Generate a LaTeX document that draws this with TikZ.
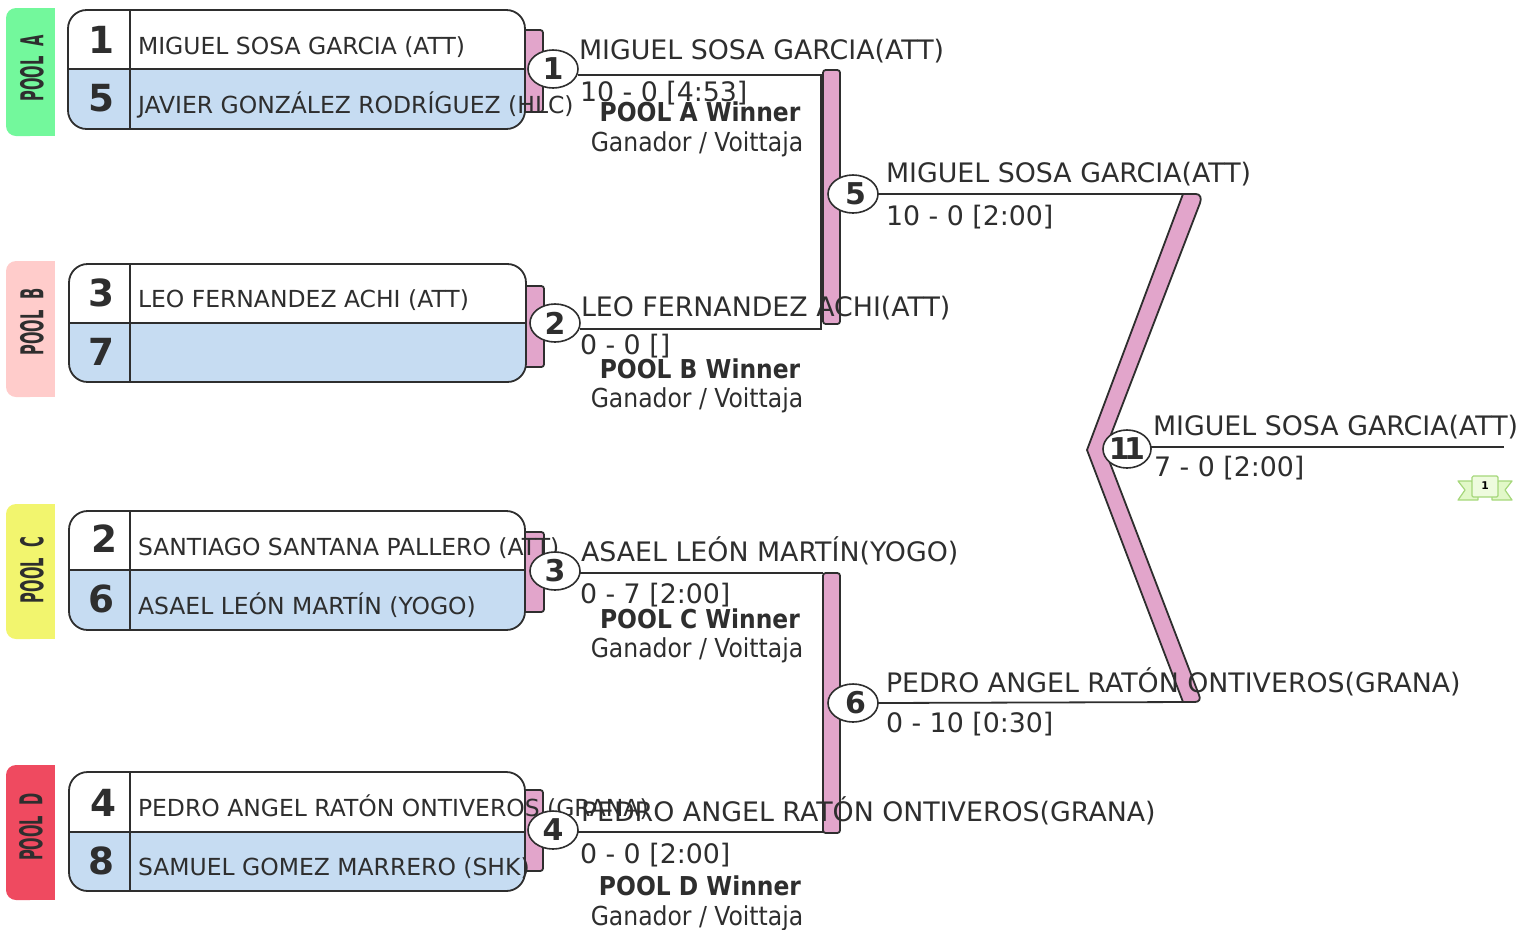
\documentclass[tikz,border=0pt]{standalone}
\usepackage{fontspec}
\setmainfont{DejaVu Sans}
\newfontfamily\condfont{DejaVu Sans Condensed}
\usetikzlibrary{shapes.geometric}
\definecolor{ink}{HTML}{2E2E2E}
\definecolor{barpink}{HTML}{E2A5CB}
\definecolor{seedblue}{HTML}{C6DCF2}
\definecolor{poola}{HTML}{73F89C}
\definecolor{poolb}{HTML}{FFCCCB}
\definecolor{poolc}{HTML}{F2F56E}
\definecolor{poold}{HTML}{EF4A60}
\definecolor{ribbon}{HTML}{E2F8C8}
\definecolor{ribbonline}{HTML}{A5D77A}
\tikzset{
  x=0.75pt,y=-0.75pt,
  every node/.style={text=ink,inner sep=0pt,outer sep=0pt},
  linew/.style={draw=ink,line width=1.8pt*0.75},
  barshape/.style={draw=ink,fill=barpink,line width=1.8pt*0.75,rounded corners=2pt},
  match/.style={ellipse,draw=ink,fill=white,line width=1.6pt*0.75,inner sep=-10pt,minimum width=50*0.75pt,minimum height=38*0.75pt,font=\bfseries\fontsize{22.5}{24}\selectfont},
  seedtxt/.style={anchor=base,font=\bfseries\fontsize{28}{28}\selectfont},
  nametxt/.style={anchor=base west,font=\fontsize{17.6}{20}\selectfont},
  wintxt/.style={anchor=base west,font=\fontsize{20.1}{24}\selectfont},
  scoretxt/.style={anchor=base west,font=\fontsize{20.1}{24}\selectfont},
  pooltitle/.style={anchor=base,font=\condfont\bfseries\fontsize{19.5}{24}\selectfont},
  poolsub/.style={anchor=base,font=\condfont\fontsize{19.6}{24}\selectfont},
  pooltab/.style={rotate=90,font=\condfont\bfseries\fontsize{18}{20}\selectfont},
}
\newcommand{\seedbox}[5]{% x1, x2, y1, ymid, y2
  \begin{scope}
    \clip[rounded corners=14pt] (#1,#3) rectangle (#2,#5);
    \fill[white] (#1,#3) rectangle (#2,#4);
    \fill[seedblue] (#1,#4) rectangle (#2,#5);
  \end{scope}
  \draw[ink,line width=1.8pt*0.75,rounded corners=14pt] (#1,#3) rectangle (#2,#5);
  \draw[ink,line width=2.2pt*0.75] (#1,#4) -- (#2,#4);
  \draw[ink,line width=1.6pt*0.75] (130,#3) -- (130,#5);
}
\newcommand{\tabtxt}[1]{\scalebox{0.68}[1.31]{#1}}
\begin{document}
\begin{tikzpicture}
\useasboundingbox (0,0) rectangle (1520,929);
% pool tabs
\fill[poola,rounded corners=7.5pt] (6,8) rectangle (40,136);
\fill[poola] (25,8) rectangle (55,136);
\fill[poolb,rounded corners=7.5pt] (6,261) rectangle (40,397);
\fill[poolb] (25,261) rectangle (55,397);
\fill[poolc,rounded corners=7.5pt] (6,504) rectangle (40,639);
\fill[poolc] (25,504) rectangle (55,639);
\fill[poold,rounded corners=7.5pt] (6,765) rectangle (40,900);
\fill[poold] (25,765) rectangle (55,900);
\node[pooltab] (pa) at (32,68) {\tabtxt{POOL\ \ A}};
\node[pooltab] (pb) at (32,322) {\tabtxt{POOL\ \ B}};
\node[pooltab] (pc) at (32,570) {\tabtxt{POOL\ \ C}};
\node[pooltab] (pd) at (31,827) {\tabtxt{POOL\ \ D}};
% bars
\draw[barshape] (522,30) rectangle (543,112);
\draw[barshape] (522,286) rectangle (544,367);
\draw[barshape] (522,532) rectangle (544,612);
\draw[barshape] (522,790) rectangle (543,871);
\draw[barshape] (823,70) rectangle (840,324);
\draw[barshape] (823,573) rectangle (840,833);
\draw[draw=ink,fill=barpink,line width=1.8pt*0.75,line join=miter] (1183,194) -- (1196,194) .. controls (1200,194) and (1202,198) .. (1200,203) -- (1105,450) -- (1199,695) .. controls (1201,699) and (1199,702) .. (1195,702) -- (1183,702) -- (1087,450) -- cycle;
% seed boxes
\seedbox{68}{525}{10}{69}{129}
\seedbox{69}{526}{264}{323}{382}
\seedbox{69}{525}{511}{570}{630}
\seedbox{69}{525}{772}{832}{891}
% seeds
\node[seedtxt] (s1) at (101,53) {1};
\node[seedtxt] (s5) at (101,111) {5};
\node[seedtxt] (s3) at (101,306) {3};
\node[seedtxt] (s7) at (101,365) {7};
\node[seedtxt] (s2) at (104,552) {2};
\node[seedtxt] (s6) at (101,612) {6};
\node[seedtxt] (s4) at (103,816) {4};
\node[seedtxt] (s8) at (101,874) {8};
% names in boxes
\node[nametxt] (n1) at (138,54) {MIGUEL SOSA GARCIA (ATT)};
\node[nametxt] (n5) at (138,113) {JAVIER GONZÁLEZ RODRÍGUEZ (HLC)};
\node[nametxt] (n3) at (138,307) {LEO FERNANDEZ ACHI (ATT)};
\node[nametxt] (n2) at (138,555) {SANTIAGO SANTANA PALLERO (ATT)};
\node[nametxt] (n6) at (138,614) {ASAEL LEÓN MARTÍN (YOGO)};
\node[nametxt] (n4) at (138,816) {PEDRO ANGEL RATÓN ONTIVEROS (GRANA)};
\node[nametxt] (n8) at (138,875) {SAMUEL GOMEZ MARRERO (SHK)};
% match nodes
\node[match] (m1) at (553,69) {1};
\node[match] (m2) at (555,323) {2};
\node[match] (m3) at (555,571) {3};
\node[match] (m4) at (553,830) {4};
\node[match] (m5) at (853,194) {\hspace{4pt}5};
\node[match] (m6) at (853,703) {\hspace{4pt}6};
\node[match,minimum width=48*0.75pt] (m11) at (1127,449) {1\kern-4.2pt 1};
% junction points
\coordinate (j1) at (821,75);
\coordinate (j2) at (821,329);
\coordinate (j3) at (823,573);
\coordinate (j4) at (823,832);
\coordinate (j5) at (1190,194);
\coordinate (j6) at (1190,702);
\coordinate (j11) at (1504,447);
% connectors
\draw[linew] (m1.east |- j1) -- (j1) -- (j2) -- (m2.east |- j2);
\draw[linew] (m3.east |- j3) -- (j3);
\draw[linew] (m4.east |- j4) -- (j4);
\draw[linew] (m5.east) -- (j5);
\draw[linew] (m6.east) -- (j6);
\draw[linew] (m11.east |- j11) -- (j11);
% winner labels
\node[wintxt] (w1) at (579,59) {MIGUEL SOSA GARCIA(ATT)};
\node[scoretxt] (r1) at (580,101) {10 - 0 [4:53]};
\node[poolsub] (g1) at (697,151) {Ganador / Voittaja};
\node[pooltitle] (t1) at (700,121) {POOL A Winner};
\node[wintxt] (w2) at (581,316) {LEO FERNANDEZ ACHI(ATT)};
\node[scoretxt] (r2) at (580,354) {0 - 0 []};
\node[pooltitle] (t2) at (700,378) {POOL B Winner};
\node[poolsub] (g2) at (697,407) {Ganador / Voittaja};
\node[wintxt] (w3) at (581,561) {ASAEL LEÓN MARTÍN(YOGO)};
\node[scoretxt] (r3) at (580,603) {0 - 7 [2:00]};
\node[pooltitle] (t3) at (700,628) {POOL C Winner};
\node[poolsub] (g3) at (697,657) {Ganador / Voittaja};
\node[wintxt] (w4) at (581,821) {PEDRO ANGEL RATÓN ONTIVEROS(GRANA)};
\node[scoretxt] (r4) at (580,863) {0 - 0 [2:00]};
\node[pooltitle] (t4) at (700,895) {POOL D Winner};
\node[poolsub] (g4) at (697,925) {Ganador / Voittaja};
\node[wintxt] (w5) at (886,182) {MIGUEL SOSA GARCIA(ATT)};
\node[scoretxt] (r5) at (886,225) {10 - 0 [2:00]};
\node[wintxt] (w6) at (886,692) {PEDRO ANGEL RATÓN ONTIVEROS(GRANA)};
\node[scoretxt] (r6) at (886,732) {0 - 10 [0:30]};
\node[wintxt] (w11) at (1153,435) {MIGUEL SOSA GARCIA(ATT)};
\node[scoretxt] (r11) at (1154,476) {7 - 0 [2:00]};
% ribbon
\draw[ribbonline,fill=ribbon,line width=0.9pt,line join=round] (1472,481) -- (1458,481) -- (1465,490) -- (1458,500) -- (1478,500) -- (1478,497) -- cycle;
\draw[ribbonline,fill=ribbon,line width=0.9pt,line join=round] (1498,481) -- (1512,481) -- (1505,490) -- (1512,500) -- (1492,500) -- (1492,497) -- cycle;
\draw[ribbonline,fill=ribbon!60!white,line width=0.9pt,rounded corners=1pt] (1472,476) rectangle (1498,497);
\node[font=\bfseries\fontsize{8}{8}\selectfont,text=black] (medal) at (1485,486) {1};
\end{tikzpicture}
\end{document}
